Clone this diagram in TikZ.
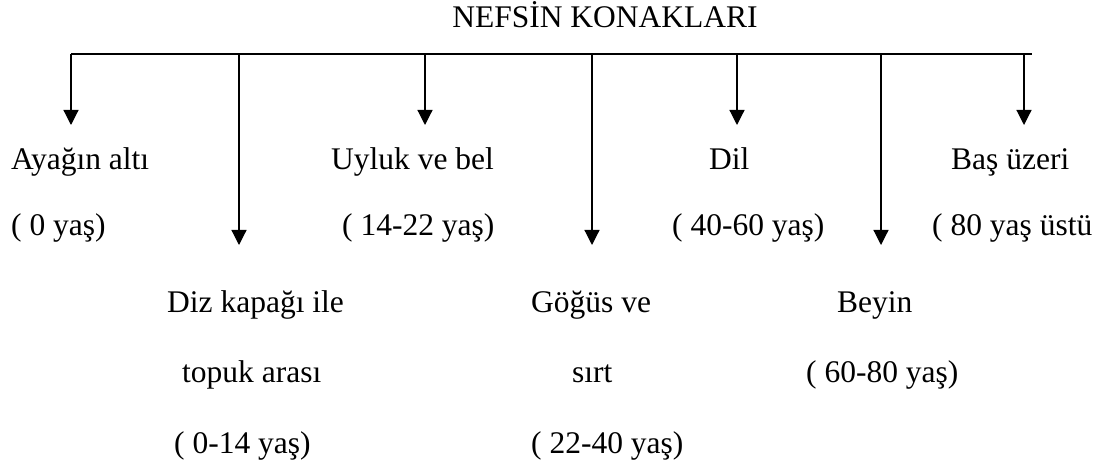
\documentclass[tikz,border=0pt]{standalone}
\usepackage{fontspec}
\setmainfont{Liberation Serif}
\usetikzlibrary{arrows.meta}
\begin{document}
\begin{tikzpicture}[x=1pt,y=-1pt,
  lbl/.style={anchor=base west,inner sep=0pt,font=\fontsize{31.5}{36}\selectfont},
  bus/.style={line width=1.2pt},
  arr/.style={line width=1.2pt,-{Triangle[width=15pt,length=15pt]}}]
\useasboundingbox (0,0) rectangle (1109,470);
% title
\node[lbl,anchor=base] (title) at (605,28) {NEFSİN KONAKLARI};
% bus line points
\coordinate (b0) at (71,54);
\coordinate (b1) at (239,54);
\coordinate (b2) at (425,54);
\coordinate (b3) at (592,54);
\coordinate (b4) at (737,54);
\coordinate (b5) at (881,54);
\coordinate (b6) at (1024,54);
\coordinate (bend) at (1032,54);
% arrow tips
\coordinate (t0) at (71,125);
\coordinate (t1) at (239,245);
\coordinate (t2) at (425,125);
\coordinate (t3) at (592,245);
\coordinate (t4) at (737,125);
\coordinate (t5) at (881,245);
\coordinate (t6) at (1024,125);
\draw[bus] (b0) -- (bend);
\foreach \i in {0,...,6} \draw[arr] (b\i) -- (t\i);
% labels
\node[lbl] (l0a) at (11,170) {Ayağın altı};
\node[lbl] (l0b) at (11,236) {( 0 yaş)};
\node[lbl] (l1a) at (167,313) {Diz kapağı ile};
\node[lbl] (l1b) at (182,383) {topuk arası};
\node[lbl] (l1c) at (174,453) {( 0-14 yaş)};
\node[lbl] (l2a) at (331,170) {Uyluk ve bel};
\node[lbl] (l2b) at (342,236) {( 14-22 yaş)};
\node[lbl] (l3a) at (531,313) {Göğüs ve};
\node[lbl] (l3b) at (572,383) {sırt};
\node[lbl] (l3c) at (531,453) {( 22-40 yaş)};
\node[lbl] (l4a) at (709,170) {Dil};
\node[lbl] (l4b) at (672,236) {( 40-60 yaş)};
\node[lbl] (l5a) at (837,313) {Beyin};
\node[lbl] (l5b) at (806,383) {( 60-80 yaş)};
\node[lbl] (l6a) at (951,170) {Baş üzeri};
\node[lbl] (l6b) at (932,236) {( 80 yaş üstü};
\end{tikzpicture}
\end{document}
